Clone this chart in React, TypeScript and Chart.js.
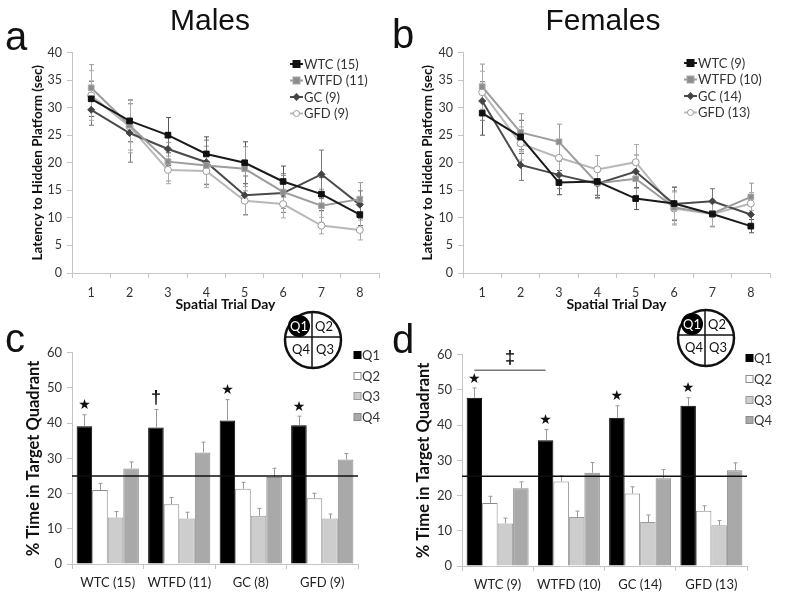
import React, { useEffect, useRef } from 'react';
import { Chart, registerables } from 'chart.js';
Chart.register(...registerables);

// ---------------- DATA ----------------
const days = ['1', '2', '3', '4', '5', '6', '7', '8'];
const groupNames = ['WTC', 'WTFD', 'GC', 'GFD'];
const maleLegend = ['WTC (15)', 'WTFD (11)', 'GC (9)', 'GFD (9)'];
const femaleLegend = ['WTC (9)', 'WTFD (10)', 'GC (14)', 'GFD (13)'];

const maleWTC = [31.6, 27.6, 25.0, 21.6, 20.0, 16.6, 14.3, 10.6];
const maleWTFD = [33.6, 26.8, 20.2, 19.5, 18.9, 14.7, 12.2, 13.4];
const maleGC = [29.6, 25.4, 22.5, 20.1, 14.1, 14.5, 17.9, 12.4];
const maleGFD = [32.2, 26.6, 18.7, 18.5, 13.1, 12.5, 8.6, 7.8];
const maleWTCErr = [3.2, 3.8, 3.2, 3.1, 3.8, 2.8, 3.0, 2.0];
const maleWTFDErr = [4.2, 4.5, 3.5, 3.5, 4.0, 3.0, 3.0, 3.0];
const maleGCErr = [2.8, 5.3, 3.0, 4.0, 3.5, 3.5, 4.4, 2.5];
const maleGFDErr = [4.5, 4.8, 2.5, 3.0, 2.6, 2.5, 1.5, 1.8];

const femaleWTC = [29.0, 24.7, 16.4, 16.6, 13.5, 12.6, 10.7, 8.5];
const femaleWTFD = [33.8, 25.5, 23.8, 16.3, 17.1, 11.9, 10.8, 13.8];
const femaleGC = [31.2, 19.6, 17.8, 16.2, 18.4, 12.5, 13.0, 10.6];
const femaleGFD = [32.8, 23.5, 20.9, 18.8, 20.1, 11.7, 10.7, 12.6];
const femaleWTCErr = [4.0, 3.0, 2.2, 2.5, 2.0, 3.0, 2.3, 1.2];
const femaleWTFDErr = [4.1, 3.4, 3.2, 2.8, 3.0, 3.0, 2.3, 2.5];
const femaleGCErr = [3.5, 2.8, 2.5, 2.5, 3.0, 3.0, 2.3, 2.0];
const femaleGFDErr = [3.8, 3.0, 2.8, 2.5, 3.2, 3.0, 2.3, 2.0];

const quadrants = ['Q1', 'Q2', 'Q3', 'Q4'];
const maleGroups = ['WTC (15)', 'WTFD (11)', 'GC (8)', 'GFD (9)'];
const femaleGroups = ['WTC (9)', 'WTFD (10)', 'GC (14)', 'GFD (13)'];

const maleQ1 = [39.1, 38.8, 40.8, 39.4];
const maleQ2 = [21.0, 17.0, 21.4, 18.7];
const maleQ3 = [13.2, 12.9, 13.7, 12.9];
const maleQ4 = [27.1, 31.7, 24.7, 29.7];
const maleQ1Err = [3.3, 5.1, 5.9, 2.6];
const maleQ2Err = [1.9, 1.9, 1.8, 1.4];
const maleQ3Err = [1.7, 1.8, 2.1, 1.3];
const maleQ4Err = [1.9, 2.9, 2.5, 1.7];
const maleSig = ['★', '†', '★', '★'];
const maleChance = 25;

const femaleQ1 = [47.8, 35.7, 42.1, 45.5];
const femaleQ2 = [17.9, 24.0, 20.6, 15.7];
const femaleQ3 = [12.1, 13.9, 12.5, 11.6];
const femaleQ4 = [22.1, 26.5, 24.9, 27.2];
const femaleQ1Err = [2.8, 3.1, 3.4, 2.3];
const femaleQ2Err = [1.9, 1.6, 1.9, 1.4];
const femaleQ3Err = [1.5, 1.7, 2.0, 1.3];
const femaleQ4Err = [1.8, 2.9, 2.5, 2.1];
const femaleSig = ['★', '★', '★', '★'];
const femaleChance = 25.5;
const femaleBracketValue = 55.6; // ‡ between WTC and WTFD

// ---------------- STYLES ----------------
const FONT = 'Lato, "Open Sans", sans-serif';
const lineStyles = [
  { line: '#1a1a1a', fill: '#111111', border: '#111111', style: 'rect', r: 4, err: '#555' },
  { line: '#9c9c9c', fill: '#8c8c8c', border: '#a8a8a8', style: 'rect', r: 4, err: '#9a9a9a' },
  { line: '#4a4a4a', fill: '#444444', border: '#444444', style: 'rectRot', r: 3.5, err: '#777' },
  { line: '#b8b8b8', fill: '#ffffff', border: '#9a9a9a', style: 'circle', r: 3.5, err: '#aaa' },
];
const barStyles = [
  { fill: '#000000', border: '#000000' },
  { fill: '#ffffff', border: '#8a8a8a' },
  { fill: '#cdcdcd', border: '#9a9a9a' },
  { fill: '#a9a9a9', border: '#8a8a8a' },
];

Chart.defaults.font.family = FONT;

const errorBarPlugin = {
  id: 'errorBars',
  beforeDatasetsDraw(chart: any, _a: any, opts: any) {
    if (opts.mode !== 'line') return;
    drawErrors(chart, 'line');
  },
  afterDatasetsDraw(chart: any, _a: any, opts: any) {
    if (opts.mode !== 'bar') return;
    drawErrors(chart, 'bar');
  },
};

function drawErrors(chart: any, mode: string) {
  const ctx = chart.ctx;
  const y = chart.scales.y;
  chart.data.datasets.forEach((ds: any, i: number) => {
    const meta = chart.getDatasetMeta(i);
    if (!ds.errors) return;
    ctx.save();
    ctx.strokeStyle = ds.errColor || '#999';
    ctx.lineWidth = 1;
    meta.data.forEach((el: any, j: number) => {
      const v = ds.data[j];
      const e = ds.errors[j];
      const x = Math.round(el.x) + 0.5;
      const yt = y.getPixelForValue(v + e);
      const yb = mode === 'line' ? y.getPixelForValue(v - e) : el.y;
      const cw = mode === 'line' ? 2.5 : 2;
      ctx.beginPath();
      ctx.moveTo(x, yt);
      ctx.lineTo(x, yb);
      ctx.moveTo(x - cw, yt);
      ctx.lineTo(x + cw, yt);
      if (mode === 'line') {
        ctx.moveTo(x - cw, yb);
        ctx.lineTo(x + cw, yb);
      }
      ctx.stroke();
    });
    ctx.restore();
  });
}

const barNotesPlugin = {
  id: 'barNotes',
  afterDatasetsDraw(chart: any, _a: any, opts: any) {
    if (opts.chance == null) return;
    const ctx = chart.ctx;
    const y = chart.scales.y;
    const area = chart.chartArea;
    ctx.save();
    const cy = y.getPixelForValue(opts.chance);
    ctx.strokeStyle = '#111';
    ctx.lineWidth = 1.5;
    ctx.beginPath();
    ctx.moveTo(area.left, cy);
    ctx.lineTo(area.right, cy);
    ctx.stroke();
    const ds0 = chart.data.datasets[0];
    const meta0 = chart.getDatasetMeta(0);
    ctx.fillStyle = '#111';
    ctx.textAlign = 'center';
    ctx.textBaseline = 'middle';
    (opts.sig || []).forEach((s: string, i: number) => {
      const el = meta0.data[i];
      const top = y.getPixelForValue(ds0.data[i] + ds0.errors[i]);
      if (s === '★') {
        ctx.font = '14px "DejaVu Sans"';
        ctx.fillText(s, el.x, top - 9);
      } else {
        ctx.font = 'bold 18px "Liberation Sans"';
        ctx.fillText(s, el.x, top - 11);
      }
    });
    if (opts.bracket != null) {
      const by = y.getPixelForValue(opts.bracket);
      const x0 = meta0.data[0].x;
      const x1 = meta0.data[1].x;
      ctx.strokeStyle = '#777';
      ctx.lineWidth = 1.5;
      ctx.beginPath();
      ctx.moveTo(x0, by);
      ctx.lineTo(x1, by);
      ctx.stroke();
      ctx.font = 'bold 18px "Liberation Sans"';
      ctx.fillStyle = '#111';
      ctx.fillText('‡', (x0 + x1) / 2, by - 12);
    }
    ctx.restore();
  },
};

Chart.register(errorBarPlugin, barNotesPlugin);

function lineConfig(series: number[][], errs: number[][], yW: number, padRight: number) {
  return {
    type: 'line',
    data: {
      labels: days,
      datasets: series.map((d, i) => ({
        label: groupNames[i],
        data: d,
        errors: errs[i],
        errColor: lineStyles[i].err,
        borderColor: lineStyles[i].line,
        backgroundColor: lineStyles[i].fill,
        borderWidth: 2,
        pointStyle: lineStyles[i].style,
        pointRadius: lineStyles[i].r,
        pointBackgroundColor: lineStyles[i].fill,
        pointBorderColor: lineStyles[i].border,
        pointBorderWidth: 1,
        tension: 0,
      })),
    },
    options: {
      responsive: false,
      animation: false,
      layout: { padding: { top: 7, right: padRight, left: 0, bottom: 0 } },
      plugins: { legend: { display: false }, tooltip: { enabled: false }, errorBars: { mode: 'line' } },
      scales: {
        x: {
          offset: true,
          grid: { offset: true, drawOnChartArea: false, tickLength: 5, color: '#c4c4c4' },
          border: { color: '#c4c4c4' },
          ticks: { color: '#333', font: { size: 12.5 }, padding: 7 },
          title: { display: true, text: 'Spatial Trial Day', color: '#111', font: { size: 14, weight: 'bold' }, padding: 0 },
          afterFit(s: any) { s.height = 40; },
        },
        y: {
          min: 0,
          max: 40,
          grid: { drawOnChartArea: false, tickLength: 5, color: '#c4c4c4' },
          border: { color: '#c4c4c4' },
          ticks: { stepSize: 5, color: '#333', font: { size: 12.5 }, padding: 5 },
          title: { display: true, text: 'Latency to Hidden Platform (sec)', color: '#111', font: { size: 13.5, weight: 'bold' }, padding: 0 },
          afterFit(s: any) { s.width = yW; },
        },
      },
    },
  };
}

function barConfig(groups: string[], vals: number[][], errs: number[][], yW: number, padRight: number, notes: any) {
  return {
    type: 'bar',
    data: {
      labels: groups,
      datasets: vals.map((d, i) => ({
        label: quadrants[i],
        data: d,
        errors: errs[i],
        errColor: '#999',
        backgroundColor: barStyles[i].fill,
        borderColor: barStyles[i].border,
        borderWidth: 1,
        barPercentage: 1,
        categoryPercentage: 0.87,
      })),
    },
    options: {
      responsive: false,
      animation: false,
      layout: { padding: { top: 12, right: padRight, left: 0, bottom: 0 } },
      plugins: { legend: { display: false }, tooltip: { enabled: false }, errorBars: { mode: 'bar' }, barNotes: notes },
      scales: {
        x: {
          grid: { offset: true, drawOnChartArea: false, tickLength: 5, color: '#c4c4c4' },
          border: { color: '#c4c4c4' },
          ticks: { color: '#222', font: { size: 13 }, padding: 6 },
          afterFit(s: any) { s.height = 30; },
        },
        y: {
          min: 0,
          max: 60,
          grid: { drawOnChartArea: false, tickLength: 5, color: '#c4c4c4' },
          border: { color: '#c4c4c4' },
          ticks: { stepSize: 10, color: '#333', font: { size: 13 }, padding: 5 },
          title: { display: true, text: '% Time in Target Quadrant', color: '#111', font: { size: 16.5, weight: 'bold' }, padding: 0 },
          afterFit(s: any) { s.width = yW; },
        },
      },
    },
  };
}

function ChartBox({ left, top, width, height, config }: any) {
  const ref = useRef<HTMLCanvasElement | null>(null);
  useEffect(() => {
    const chart = new Chart(ref.current as HTMLCanvasElement, config() as any);
    return () => chart.destroy();
  }, []);
  return (
    <canvas
      ref={ref}
      width={width}
      height={height}
      style={{ position: 'absolute', left, top, width, height }}
    />
  );
}

function LineLegend({ x, y, labels }: any) {
  return (
    <g>
      {labels.map((t: string, i: number) => {
        const cy = y + i * 16.5;
        const s = lineStyles[i];
        let marker;
        if (s.style === 'rect') marker = <rect x={x + 3} y={cy - 3.5} width={7} height={7} fill={s.fill} stroke={s.border} strokeWidth={1} />;
        else if (s.style === 'rectRot') marker = <polygon points={`${x + 6.5},${cy - 4} ${x + 10.5},${cy} ${x + 6.5},${cy + 4} ${x + 2.5},${cy}`} fill={s.fill} />;
        else marker = <circle cx={x + 6.5} cy={cy} r={3} fill="#fff" stroke={s.border} strokeWidth={1} />;
        return (
          <g key={i}>
            <line x1={x} x2={x + 13} y1={cy} y2={cy} stroke={s.line} strokeWidth={2} />
            {marker}
            <text x={x + 14} y={cy + 4.5} fontFamily={FONT} fontSize={13} fill="#333">{t}</text>
          </g>
        );
      })}
    </g>
  );
}

function BarLegend({ x, ys }: any) {
  return (
    <g>
      {quadrants.map((q, i) => (
        <g key={q}>
          <rect x={x} y={ys[i] - 3.5} width={7} height={7} fill={barStyles[i].fill} stroke={barStyles[i].border} strokeWidth={1} />
          <text x={x + 8} y={ys[i] + 4.5} fontFamily={FONT} fontSize={13} fill="#333">{q}</text>
        </g>
      ))}
    </g>
  );
}

function QuadIcon({ cx, cy }: any) {
  return (
    <g fontFamily={FONT} fontSize={13} textAnchor="middle">
      <circle cx={cx} cy={cy} r={28} fill="#fff" stroke="#111" strokeWidth={2.5} />
      <line x1={cx - 1} x2={cx - 1} y1={cy - 28} y2={cy + 28} stroke="#111" strokeWidth={1.5} />
      <line x1={cx - 28} x2={cx + 28} y1={cy - 3} y2={cy - 3} stroke="#111" strokeWidth={1.5} />
      <circle cx={cx - 14} cy={cy - 14} r={11} fill="#000" />
      <text x={cx - 14} y={cy - 9} fill="#fff">Q1</text>
      <text x={cx + 11} y={cy - 9} fill="#111">Q2</text>
      <text x={cx - 12} y={cy + 14} fill="#111">Q4</text>
      <text x={cx + 12} y={cy + 14} fill="#111">Q3</text>
    </g>
  );
}

export default function App() {
  return (
    <div style={{ position: 'fixed', left: 0, top: 0, width: 800, height: 611, background: '#fff', overflow: 'hidden' }}>
      <ChartBox
        left={30} top={40} width={370} height={273}
        config={() => lineConfig([maleWTC, maleWTFD, maleGC, maleGFD], [maleWTCErr, maleWTFDErr, maleGCErr, maleGFDErr], 42, 21)}
      />
      <ChartBox
        left={420} top={40} width={380} height={273}
        config={() => lineConfig([femaleWTC, femaleWTFD, femaleGC, femaleGFD], [femaleWTCErr, femaleWTFDErr, femaleGCErr, femaleGFDErr], 43, 30)}
      />
      <ChartBox
        left={24} top={340} width={376} height={254}
        config={() => barConfig(maleGroups, [maleQ1, maleQ2, maleQ3, maleQ4], [maleQ1Err, maleQ2Err, maleQ3Err, maleQ4Err], 48, 42, { chance: maleChance, sig: maleSig, bracket: null })}
      />
      <ChartBox
        left={414} top={342} width={386} height={254}
        config={() => barConfig(femaleGroups, [femaleQ1, femaleQ2, femaleQ3, femaleQ4], [femaleQ1Err, femaleQ2Err, femaleQ3Err, femaleQ4Err], 48, 53, { chance: femaleChance, sig: femaleSig, bracket: femaleBracketValue })}
      />
      <svg width={800} height={611} style={{ position: 'absolute', left: 0, top: 0, pointerEvents: 'none' }}>
        <g fontFamily='"Liberation Sans", Arial, sans-serif' fill="#111">
          <text x={210} y={30} fontSize={30} textAnchor="middle">Males</text>
          <text x={603} y={30} fontSize={30} textAnchor="middle">Females</text>
          <text x={5} y={50} fontSize={40}>a</text>
          <text x={392} y={48} fontSize={40}>b</text>
          <text x={5} y={352} fontSize={40}>c</text>
          <text x={392} y={353} fontSize={40}>d</text>
        </g>
        <LineLegend x={290} y={64} labels={maleLegend} />
        <LineLegend x={684} y={63} labels={femaleLegend} />
        <QuadIcon cx={313} cy={340} />
        <QuadIcon cx={706} cy={338} />
        <BarLegend x={354} ys={[355, 376, 396, 417]} />
        <BarLegend x={746} ys={[358, 379, 400, 420]} />
      </svg>
    </div>
  );
}
